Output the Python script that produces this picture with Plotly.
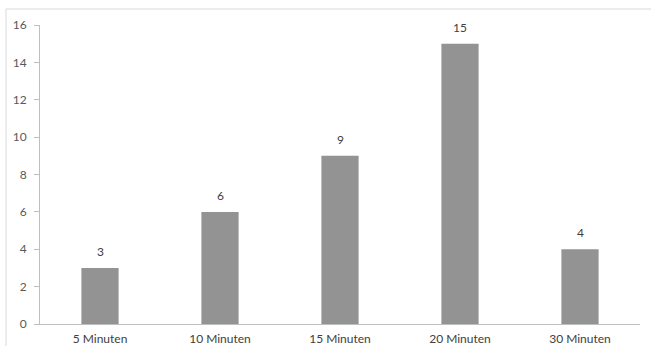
import plotly.graph_objects as go

categories = ["5 Minuten", "10 Minuten", "15 Minuten", "20 Minuten", "30 Minuten"]
values = [3, 6, 9, 15, 4]
y_ticks = [0, 2, 4, 6, 8, 10, 12, 14, 16]

W, H = 651, 346
L, R, T, B = 40, 11, 25, 22
pw, ph = W - L - R, H - T - B

FONT = "Lato, Open Sans, Liberation Sans, sans-serif"

fig = go.Figure(go.Bar(
    x=categories, y=values,
    marker=dict(color="#939393", line=dict(width=0)),
    width=0.31,
))

annotations = [
    dict(x=c, y=v, xref="x", yref="y", text=str(v), showarrow=False,
         yanchor="bottom", yshift=7,
         font=dict(family=FONT, size=12, color="#404040"))
    for c, v in zip(categories, values)
]

fig.update_layout(
    width=W, height=H,
    margin=dict(l=L, r=R, t=T, b=B, autoexpand=False),
    paper_bgcolor="white", plot_bgcolor="white",
    font=dict(family=FONT, size=12, color="#595959"),
    showlegend=False,
    xaxis=dict(
        showgrid=False, showline=True, linecolor="#bfbfbf", linewidth=1,
        ticks="", tickfont=dict(family=FONT, size=12, color="#404040"),
        range=[-0.5, 4.5], automargin=False, ticklabelstandoff=4,
    ),
    yaxis=dict(
        range=[0, 16], tickvals=y_ticks, showgrid=False, zeroline=False,
        showline=True, linecolor="#bfbfbf", linewidth=1,
        ticks="outside", ticklen=5, tickcolor="#bfbfbf",
        tickfont=dict(family=FONT, size=12, color="#595959"),
        automargin=False, ticklabelstandoff=5,
    ),
    annotations=annotations,
    shapes=[dict(
        type="rect", xref="paper", yref="paper",
        x0=(6 - L) / pw, x1=(W + 5 - L) / pw,
        y0=(H - B - (H + 5)) / ph, y1=(H - B - 9) / ph,
        line=dict(color="#d9d9d9", width=1), fillcolor="rgba(0,0,0,0)",
        layer="below",
    )],
)

fig.write_html("out.html")
